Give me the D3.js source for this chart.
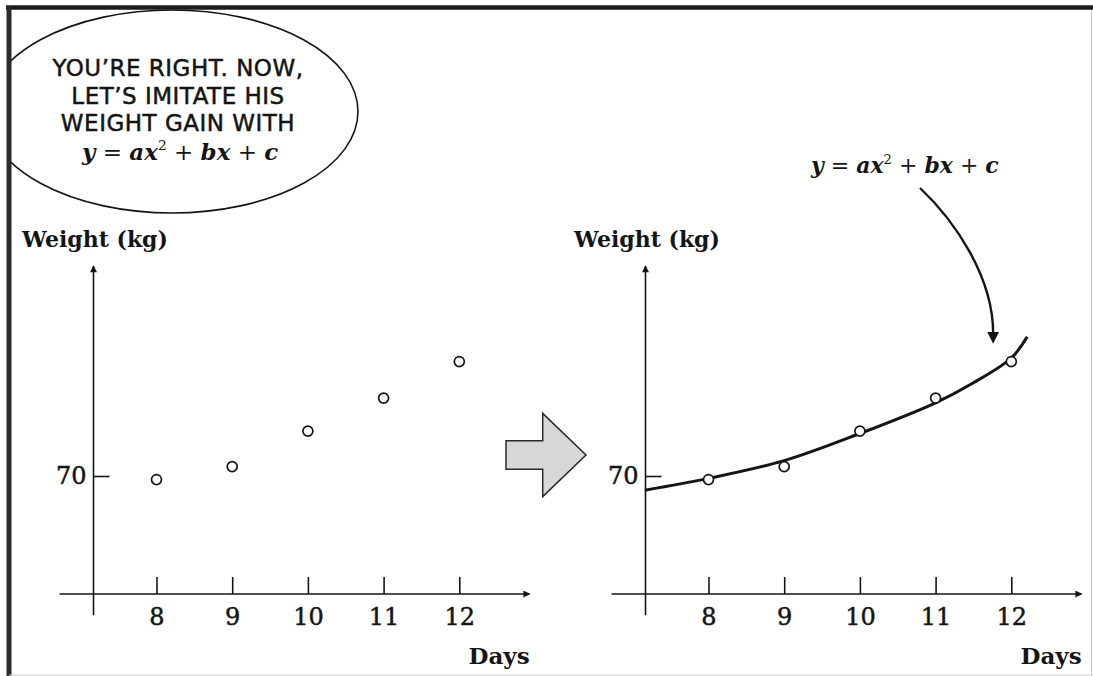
<!DOCTYPE html>
<html>
<head>
<meta charset="utf-8">
<script src="https://cdn.jsdelivr.net/npm/d3@7"></script>
<style>
  html, body { margin: 0; padding: 0; background: #fff; }
  svg { display: block; }
</style>
</head>
<body>
<svg id="chart" width="1093" height="676"></svg>
<script>
// data
var days = [8, 9, 10, 11, 12];
var weights = [69.7, 70.8, 73.8, 76.6, 79.7];
var weightTicks = [70];

// the drawn quadratic in the right panel
var curveDays = [7.16, 8, 9, 10, 11, 11.5, 12, 12.21];
var curveWeights = [68.8, 69.8, 71.3, 73.6, 76.2, 77.9, 80.0, 81.8];

var bubbleLines = ["YOU\u2019RE RIGHT. NOW,", "LET\u2019S IMITATE HIS", "WEIGHT GAIN WITH"];

// y = ax^2 + bx + c, piece by piece
var formulaParts = [
  {t: "y", it: true},
  {t: " = ", it: false},
  {t: "ax", it: true},
  {t: "2", sup: true},
  {t: " + ", it: false, down: true},
  {t: "bx", it: true},
  {t: " + ", it: false},
  {t: "c", it: true}
];

var serif = "'DejaVu Serif', 'Liberation Serif', serif";
var ink = "#151515";

var svg = d3.select("#chart");
var defs = svg.append("defs");

// arrow heads
defs.append("marker")
  .attr("id", "tip")
  .attr("viewBox", "0 0 10 10")
  .attr("refX", 9).attr("refY", 5)
  .attr("markerWidth", 9).attr("markerHeight", 7)
  .attr("markerUnits", "userSpaceOnUse")
  .attr("orient", "auto")
  .append("path").attr("d", "M0,0L10,5L0,10z").attr("fill", ink);

defs.append("marker")
  .attr("id", "bigtip")
  .attr("viewBox", "0 0 10 10")
  .attr("refX", 1).attr("refY", 5)
  .attr("markerWidth", 12).attr("markerHeight", 13)
  .attr("markerUnits", "userSpaceOnUse")
  .attr("orient", "auto")
  .append("path").attr("d", "M0,0L10,5L0,10z").attr("fill", ink);

defs.append("clipPath").attr("id", "frameclip")
  .append("rect").attr("x", 10).attr("y", 8).attr("width", 1083).attr("height", 668);

// 文字公式
function drawFormula(parent, x, y, size) {
  var t = parent.append("text")
    .attr("x", x).attr("y", y)
    .attr("font-family", serif)
    .attr("font-size", size)
    .attr("fill", ink);
  formulaParts.forEach(function(p) {
    var s = t.append("tspan").text(p.t);
    if (p.sup) {
      s.attr("font-size", size * 0.6).attr("dy", -size * 0.42);
    } else if (p.it) {
      s.attr("font-style", "italic").attr("font-weight", "bold");
    }
    // drop back to baseline after the superscript
    if (p.down) s.attr("dy", size * 0.42);
  });
  return t;
}

function drawPanel(ox, withCurve) {
  var g = svg.append("g");

  var x = d3.scaleLinear().domain([8, 12]).range([ox + 63, ox + 63 + 4 * 75.7]);
  var y = d3.scaleLinear().domain([60, 70]).range([594, 476]);

  // y axis line with arrow
  g.append("line")
    .attr("x1", ox).attr("x2", ox)
    .attr("y1", y(58.2)).attr("y2", y(87.8))
    .attr("stroke", ink).attr("stroke-width", 1.6)
    .attr("marker-end", "url(#tip)");

  // x axis line with arrow
  g.append("line")
    .attr("x1", x(6.72)).attr("x2", x(12.93))
    .attr("y1", y(60)).attr("y2", y(60))
    .attr("stroke", ink).attr("stroke-width", 1.6)
    .attr("marker-end", "url(#tip)");

  var xAxis = d3.axisBottom(x)
    .tickValues(days)
    .tickSizeInner(-17)
    .tickSizeOuter(0)
    .tickPadding(14)
    .tickFormat(d3.format("d"));

  var xg = g.append("g")
    .attr("transform", "translate(0," + y(60) + ")")
    .call(xAxis);
  xg.select(".domain").remove();
  xg.attr("font-family", serif).attr("font-size", 24).attr("color", ink);
  xg.selectAll(".tick line").attr("stroke-width", 1.6);
  xg.selectAll(".tick text").attr("stroke", ink).attr("stroke-width", 0.5);

  var yAxis = d3.axisLeft(y)
    .tickValues(weightTicks)
    .tickSizeInner(-16)
    .tickSizeOuter(0)
    .tickPadding(7);

  var yg = g.append("g")
    .attr("transform", "translate(" + ox + ",0)")
    .call(yAxis);
  yg.select(".domain").remove();
  yg.attr("font-family", serif).attr("font-size", 24).attr("color", ink);
  yg.selectAll(".tick line").attr("stroke-width", 1.6);
  yg.selectAll(".tick text").attr("stroke", ink).attr("stroke-width", 0.5);

  if (withCurve) {
    var line = d3.line()
      .x(function(d, i) { return x(curveDays[i]); })
      .y(function(d) { return y(d); })
      .curve(d3.curveCatmullRom.alpha(0.5));
    g.append("path")
      .datum(curveWeights)
      .attr("d", line)
      .attr("fill", "none")
      .attr("stroke", ink)
      .attr("stroke-width", 3);
  }

  g.selectAll("circle.pt")
    .data(weights)
    .enter()
    .append("circle")
    .classed("pt", true)
    .attr("cx", function(d, i) { return x(days[i]); })
    .attr("cy", function(d) { return y(d); })
    .attr("r", 5)
    .attr("fill", "#fff")
    .attr("stroke", ink)
    .attr("stroke-width", 1.7);

  g.append("text")
    .attr("x", ox - 71.5).attr("y", 247)
    .attr("font-family", serif).attr("font-size", 22).attr("font-weight", "bold")
    .attr("fill", ink)
    .text("Weight (kg)");

  g.append("text")
    .attr("x", x(12.93)).attr("y", 664)
    .attr("text-anchor", "end")
    .attr("font-family", serif).attr("font-size", 23).attr("font-weight", "bold")
    .attr("fill", ink)
    .text("Days");

  return {x: x, y: y};
}

var left = drawPanel(93.5, false);
var right = drawPanel(645.5, true);

// 灰色箭頭
var ba = {x0: 506, cy: 455, shaftH: 28.6, headX: 542.7, headH: 83.3, tipX: 586};
svg.append("path")
  .attr("d", d3.line()([
    [ba.x0, ba.cy - ba.shaftH / 2],
    [ba.headX, ba.cy - ba.shaftH / 2],
    [ba.headX, ba.cy - ba.headH / 2],
    [ba.tipX, ba.cy],
    [ba.headX, ba.cy + ba.headH / 2],
    [ba.headX, ba.cy + ba.shaftH / 2],
    [ba.x0, ba.cy + ba.shaftH / 2]
  ]) + "Z")
  .attr("fill", "#d7d7d7")
  .attr("stroke", "#2a2a2a")
  .attr("stroke-width", 1.5)
  .attr("stroke-linejoin", "miter");

// formula label + curved pointer on the right
drawFormula(svg, 811, 173, 22);
var p0 = [920, 188], p3 = [right.x(11.76), right.y(81.1) - 12];
var pointer = d3.path();
pointer.moveTo(p0[0], p0[1]);
pointer.bezierCurveTo(p0[0] + 35, p0[1] + 33, p3[0], p3[1] - 56, p3[0], p3[1]);
svg.append("path")
  .attr("d", pointer.toString())
  .attr("fill", "none")
  .attr("stroke", ink)
  .attr("stroke-width", 2.4)
  .attr("marker-end", "url(#bigtip)");

// speech bubble
var bubble = svg.append("g").attr("clip-path", "url(#frameclip)");
bubble.append("ellipse")
  .attr("cx", 172).attr("cy", 111.5)
  .attr("rx", 186).attr("ry", 101.5)
  .attr("fill", "#fff")
  .attr("stroke", ink)
  .attr("stroke-width", 1.6);

bubble.selectAll("text.bl")
  .data(bubbleLines)
  .enter()
  .append("text")
  .classed("bl", true)
  .attr("x", 178)
  .attr("y", function(d, i) { return 76 + i * 27.5; })
  .attr("text-anchor", "middle")
  .attr("font-family", "'DejaVu Sans', sans-serif")
  .attr("font-size", 23)
  .attr("letter-spacing", 0.5)
  .attr("fill", ink)
  .attr("stroke", ink)
  .attr("stroke-width", 0.5)
  .text(function(d) { return d; });

drawFormula(bubble, 82, 160, 23);

// frame
svg.append("line").attr("x1", 6).attr("x2", 1093).attr("y1", 7.5).attr("y2", 7.5)
  .attr("stroke", "#1c1c1c").attr("stroke-width", 4.5);
svg.append("line").attr("x1", 9).attr("x2", 9).attr("y1", 6).attr("y2", 676)
  .attr("stroke", "#2a2a2a").attr("stroke-width", 5);
svg.append("line").attr("x1", 1091.5).attr("x2", 1091.5).attr("y1", 10).attr("y2", 676)
  .attr("stroke", "#c8c8c8").attr("stroke-width", 1);
svg.append("line").attr("x1", 9).attr("x2", 1093).attr("y1", 675).attr("y2", 675)
  .attr("stroke", "#d0d0d0").attr("stroke-width", 1);
</script>
</body>
</html>
